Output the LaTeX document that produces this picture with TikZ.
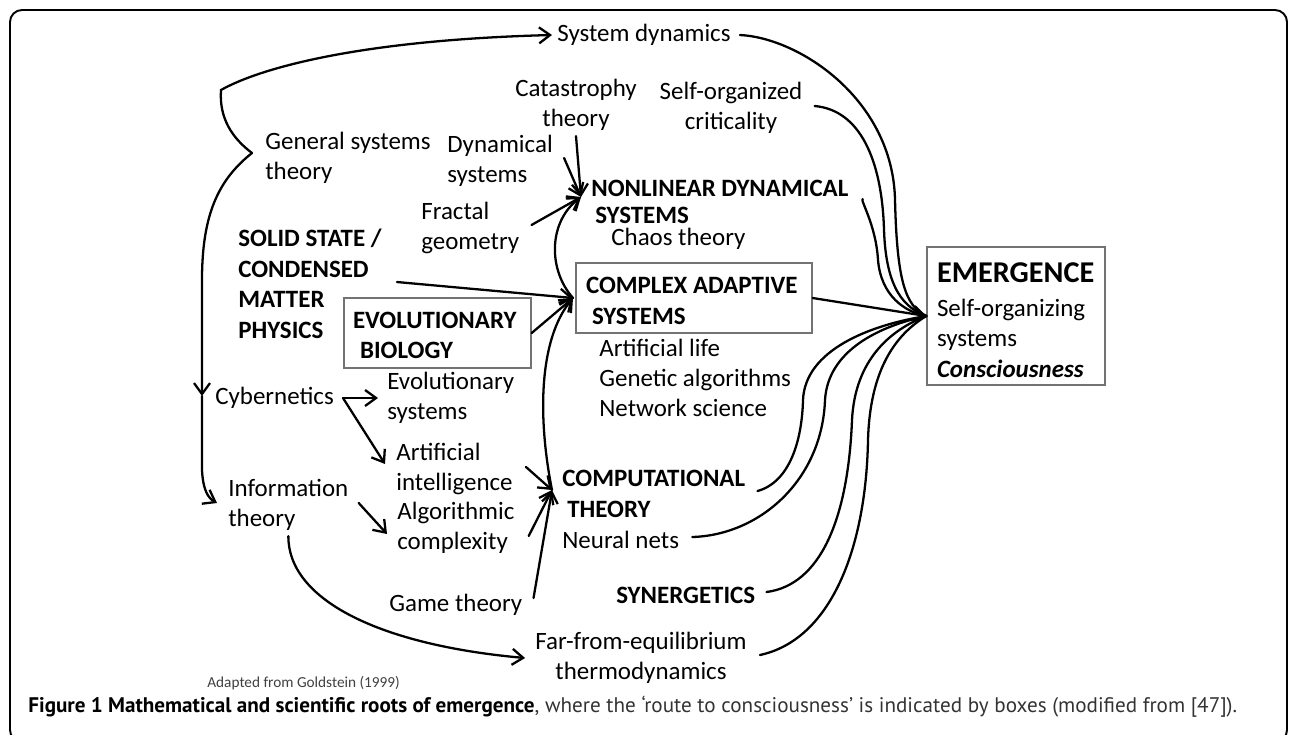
\documentclass[tikz,border=0pt]{standalone}
\usepackage{fontspec}
\setmainfont{Carlito}
\newfontfamily\capfont{PT Sans}
\usetikzlibrary{arrows.meta}
\begin{document}
\begin{tikzpicture}[x=0.02cm,y=-0.02cm,
  lbl/.style={font=\fontsize{14.2}{17.2}\selectfont, inner sep=0pt, align=left},
  blbl/.style={lbl, font=\fontsize{14.2}{17.2}\selectfont\bfseries},
  box/.style={draw=black!55, line width=0.8pt, inner ysep=0pt, align=flush left},
  conn/.style={line width=1.3pt, line cap=round},
  arr/.style={conn, -{Straight Barb[length=0.22cm,width=0.32cm]}},
]
\useasboundingbox (0,0) rectangle (1290,734);
\draw[line width=1.1pt, rounded corners=0.24cm] (10,10) rectangle (1287,742);

% nodes
\node[lbl, anchor=west] (sysdyn) at (557,35) {System dynamics};
\node[lbl, align=center] (catas) at (576,105) {Catastrophy\\theory};
\node[lbl, align=center] (soc) at (731,108) {Self-organized\\criticality};
\node[lbl, anchor=west] (gst) at (265,158) {General systems\\theory};
\node[lbl, anchor=west] (dyn) at (447,161) {Dynamical\\systems};
\node[lbl, anchor=west] (fractal) at (421,228) {Fractal\\geometry};
\node[blbl, anchor=west, font=\fontsize{14.2}{15.4}\selectfont\bfseries] (nds) at (591,202) {NONLINEAR DYNAMICAL\\\hspace{0.08cm}SYSTEMS};
\node[lbl, anchor=west] (chaos) at (611,239) {Chaos theory};
\node[blbl, anchor=west, font=\fontsize{14.2}{17.4}\selectfont\bfseries] (solid) at (238,284) {SOLID STATE /\\CONDENSED\\MATTER\\PHYSICS};
\node[box, font=\fontsize{14.2}{17.2}\selectfont\bfseries, inner xsep=0.18cm, text width=3.38cm, minimum height=1.4cm] (evobio) at (437.5,333) {\rule{0pt}{11.6pt}EVOLUTIONARY\\\hspace{0.14cm}BIOLOGY};
\node[box, font=\fontsize{14.2}{17.2}\selectfont\bfseries, inner xsep=0.2cm, text width=4.32cm, minimum height=1.4cm] (cas) at (694,298) {\rule{0pt}{12.6pt}COMPLEX ADAPTIVE\\\hspace{0.12cm}SYSTEMS};
\node[lbl, anchor=west, font=\fontsize{14.2}{17}\selectfont] (alife) at (599,378) {Artificial life\\Genetic algorithms\\Network science};
\node[box, font=\fontsize{14.2}{17.4}\selectfont, inner xsep=0.2cm, text width=3.16cm, minimum height=2.76cm] (emerg) at (1016,316) {\rule{0pt}{16.2pt}{\fontsize{17.2}{20}\selectfont\bfseries EMERGENCE}\\[0.06cm]Self-organizing\\systems\\\textbf{\textit{Consciousness}}};
\node[lbl, anchor=west] (cyber) at (215,398) {Cybernetics};
\node[lbl, anchor=west] (evosys) at (387,398) {Evolutionary\\systems};
\node[lbl, anchor=west] (ai) at (396,469) {Artificial\\intelligence};
\node[lbl, anchor=west] (info) at (228,505) {Information\\theory};
\node[lbl, anchor=west] (algo) at (397,528) {Algorithmic\\complexity};
\node[lbl, anchor=west] (game) at (389,605) {Game theory};
\node[blbl, anchor=west] (comp) at (562,494) {COMPUTATIONAL\\\hspace{0.1cm}THEORY};
\node[lbl, anchor=west] (neural) at (562,540) {Neural nets};
\node[blbl, anchor=west] (syn) at (616,595) {SYNERGETICS};
\node[lbl, align=center] (far) at (641,658) {Far-from-equilibrium\\thermodynamics};
\node[lbl, anchor=west, font=\fontsize{8.7}{10}\selectfont, text=black!75] (adapted) at (207,683) {Adapted from Goldstein (1999)};
\node[anchor=west, inner sep=0pt] (caption) at (28,707) {\resizebox{24.18cm}{!}{\capfont\textbf{Figure 1 Mathematical and scientific roots of emergence}\textcolor{black!80}{, where the ‘route to consciousness’ is indicated by boxes (modified from [47]).}}};

% junction coordinates
\coordinate (cusp) at (252,153);
\coordinate (corner) at (221,90);
\coordinate (cybin) at (202,396);
\coordinate (cybout) at (343,398);
\coordinate (tipN) at (581,197);
\coordinate (tipC) at (573,298);
\coordinate (tipT) at (552,490);

% left bracket
\draw[arr] (cusp) .. controls (232,138) and (219,118) .. (corner) .. controls (260,68) and (360,40) .. ([xshift=-0.1cm]sysdyn.west);
\draw[arr] (cusp) .. controls (218,180) and (202,215) .. (202,280) -- (cybin);
\draw[arr] (cybin) -- (202,470) .. controls (203,490) and (208,498) .. ([xshift=-0.22cm,yshift=0.04cm]info.west);

% cybernetics
\draw[arr] (cybout) -- ([xshift=-0.18cm]evosys.west);
\draw[arr] (cybout) -- ([xshift=-0.22cm,yshift=0.1cm]ai.west);

% information theory
\draw[arr] ([xshift=0.2cm,yshift=0.04cm]info.east) -- ([xshift=-0.2cm,yshift=-0.12cm]algo.west);
\draw[arr] ([yshift=-0.1cm]info.south) .. controls (288,600) and (380,645) .. ([xshift=-0.2cm]far.west);

% into computational theory
\draw[arr] ([xshift=0.26cm,yshift=0.04cm]ai.east) -- (tipT);
\draw[arr] ([xshift=0.28cm,yshift=-0.16cm]algo.east) -- (tipT);
\draw[arr] ([xshift=0.22cm,yshift=0.14cm]game.east) -- (tipT);

% comp -> cas, cas -> nds
\draw[arr] (tipT) .. controls (538,420) and (538,340) .. (tipC);
\draw[arr] (tipC) .. controls (548,270) and (548,222) .. (tipN);

% into nonlinear
\draw[arr] ([xshift=0.24cm,yshift=0.06cm]fractal.east) -- (tipN);
\draw[arr] ([xshift=0.22cm,yshift=0.06cm]dyn.east) -- (tipN);
\draw[arr] ([yshift=-0.1cm]catas.south) -- (tipN);

% into CAS
\draw[arr] ([xshift=0.3cm,yshift=0.04cm]solid.east) -- (tipC);
\draw[arr] (evobio.east) -- (tipC);

% into emergence
\draw[arr] (cas.east) -- (emerg.west);
\draw[conn] ([xshift=0.18cm]sysdyn.east) .. controls (800,38) and (893,100) .. (895,200) .. controls (897,280) and (905,306) .. (emerg.west);
\draw[conn] ([xshift=0.24cm,yshift=0.04cm]soc.east) .. controls (860,110) and (882,160) .. (884,230) .. controls (886,290) and (905,308) .. (emerg.west);
\draw[conn] ([xshift=0.28cm,yshift=0.06cm]nds.east) .. controls (860,200) and (876,225) .. (878,260) .. controls (881,296) and (905,312) .. (emerg.west);
\draw[conn] ([xshift=0.24cm,yshift=0.06cm]comp.east) .. controls (790,482) and (802,440) .. (803,400) .. controls (805,350) and (870,325) .. (emerg.west);
\draw[conn] ([xshift=0.26cm,yshift=0.06cm]neural.east) .. controls (760,535) and (822,480) .. (825,400) .. controls (828,350) and (880,326) .. (emerg.west);
\draw[conn] ([xshift=0.22cm,yshift=0.06cm]syn.east) .. controls (820,585) and (848,520) .. (852,420) .. controls (855,360) and (890,330) .. (emerg.west);
\draw[conn] ([xshift=0.26cm,yshift=0.06cm]far.east) .. controls (830,640) and (866,550) .. (868,440) .. controls (870,370) and (895,335) .. (emerg.west);
\end{tikzpicture}
\end{document}
